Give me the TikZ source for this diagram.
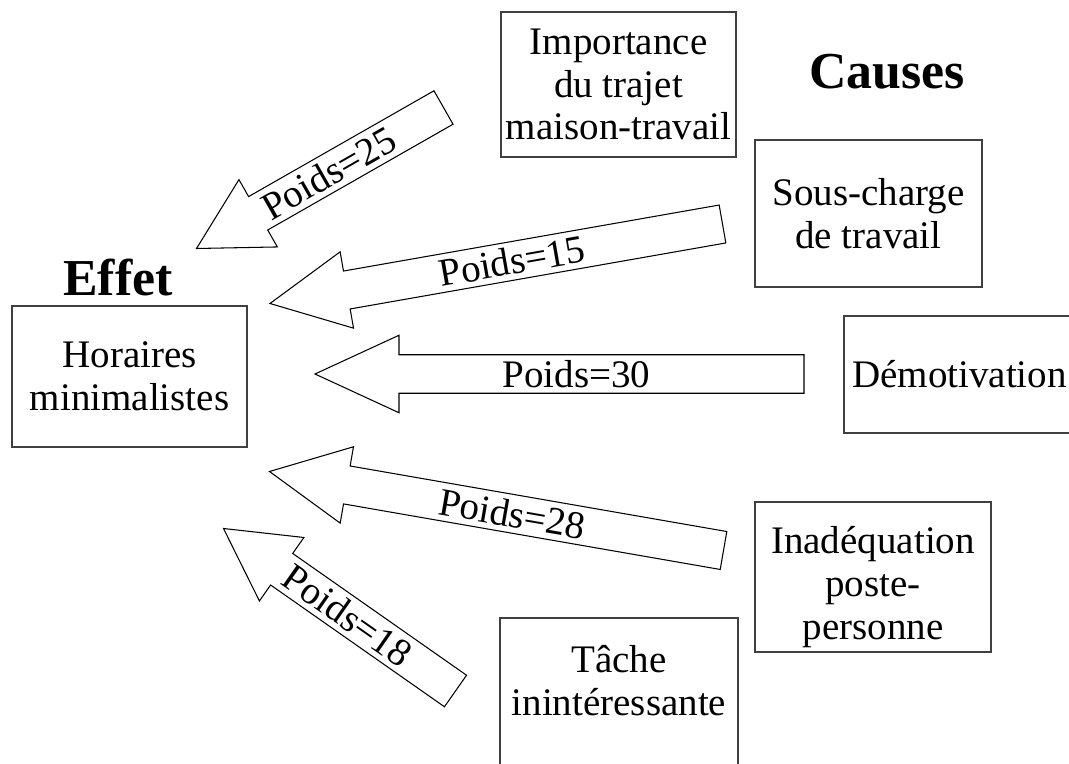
\documentclass[tikz,border=0pt]{standalone}
\usepackage{fontspec}
\setmainfont{Liberation Serif}
\usetikzlibrary{calc}

\begin{document}
\begin{tikzpicture}[
      box/.style={draw=black!75, line width=0.6pt, align=center, inner sep=0pt,
        font=\fontsize{22.2}{24.4}\selectfont},
      block/.style={draw=black, line width=0.6pt, line join=miter},
      wlabel/.style={font=\fontsize{22.2}{24.4}\selectfont, sloped, inner sep=0pt},
      title/.style={font=\fontsize{29.5}{31}\selectfont\bfseries},
    ]
    \useasboundingbox (0,0) rectangle (21.38,15.26);
    \clip (0,0) rectangle (21.38,15.26);

    % -------------------------------------------------------
    %  Titles and effect
    % -------------------------------------------------------
    \node[title] (effet) at (2.36, 9.70) {Effet};
    \node[title] (causes) at (17.74, 13.82) {Causes};

    \node[box, minimum width=4.70cm, minimum height=2.82cm] (hor) at (2.59, 7.73) {Horaires\\minimalistes};

    % -------------------------------------------------------
    %  Causes
    % -------------------------------------------------------
    \node[box, minimum width=4.70cm, minimum height=2.90cm] (imp) at (12.37, 13.57) {Importance\\du trajet\\maison-travail};
    \node[box, minimum width=4.54cm, minimum height=2.94cm] (sous) at (17.37, 10.99) {Sous-charge\\de travail};
    \node[box, minimum width=4.62cm, minimum height=2.34cm] (demo) at (19.19, 7.77) {Démotivation};
    \node[box, minimum width=4.72cm, minimum height=3.00cm, text height=2.66cm] (inad) at (17.46, 3.72) {Inadéquation\\poste-\\personne};
    \node[box, minimum width=4.76cm, minimum height=3.04cm, text depth=0.56cm] (tache) at (12.38, 1.38) {Tâche\\inintéressante};

    % -------------------------------------------------------
    %  Weighted arrows: tail (t) and tip (h)
    % -------------------------------------------------------
    \coordinate (t25) at (8.87, 13.11);  \coordinate (h25) at (3.93, 10.29);
    \coordinate (t15) at (14.45, 10.78); \coordinate (h15) at (5.40, 9.19);
    \coordinate (t30) at (16.08, 7.78);  \coordinate (h30) at (6.30, 7.78);
    \coordinate (t28) at (14.47, 4.25);  \coordinate (h28) at (5.39, 5.83);
    \coordinate (t18) at (9.11, 1.44);   \coordinate (h18) at (4.47, 4.69);

    \foreach \w/\hl in {25/1.42, 15/1.56, 30/1.68, 28/1.57, 18/1.42} {
      \coordinate (b\w) at ($(h\w)!\hl cm!(t\w)$);
      \draw[block] (h\w)
        -- ($(b\w)!0.775cm!90:(h\w)$) -- ($(b\w)!0.385cm!90:(h\w)$)
        -- ($(t\w)!0.385cm!90:(h\w)$) -- ($(t\w)!0.385cm!-90:(h\w)$)
        -- ($(b\w)!0.385cm!-90:(h\w)$) -- ($(b\w)!0.775cm!-90:(h\w)$)
        -- cycle;
      \path (t\w) -- (h\w) node[wlabel, pos=0.465] (l\w) {Poids=\w};
    }

  \end{tikzpicture}
\end{document}
